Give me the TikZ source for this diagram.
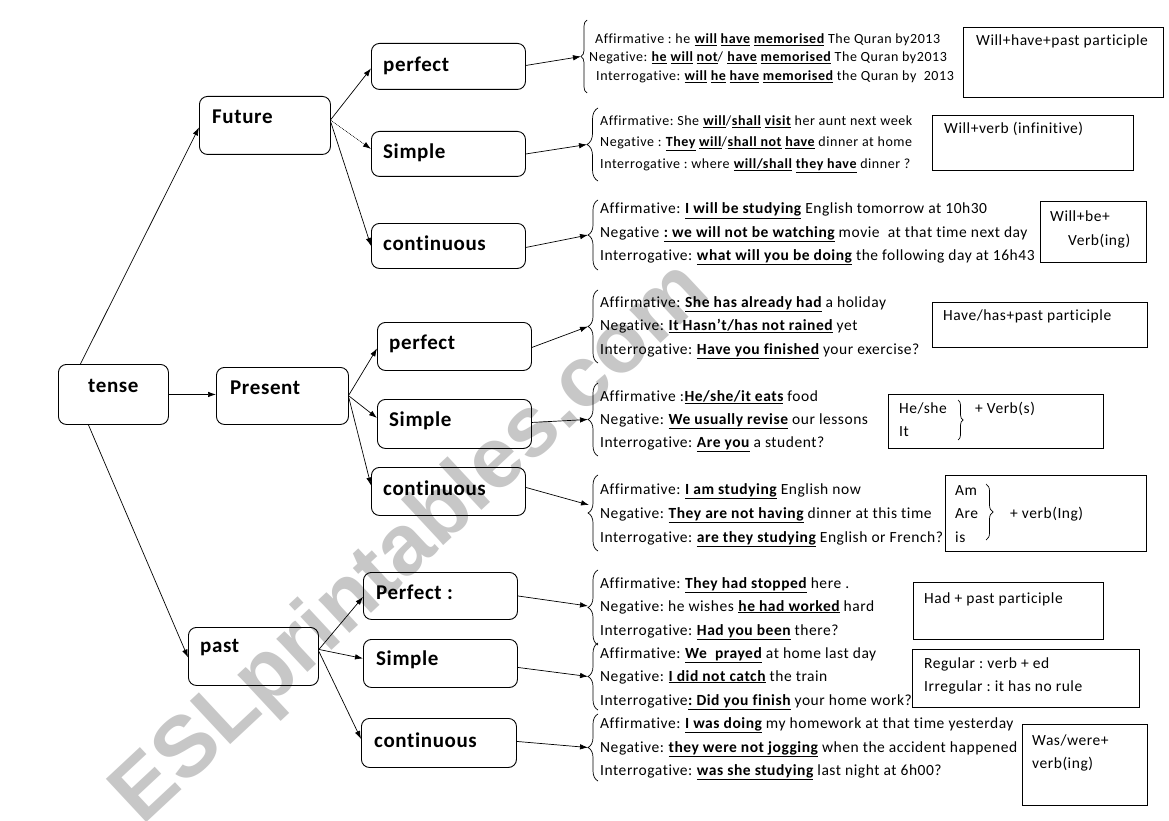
\documentclass[tikz,border=0pt]{standalone}
\usepackage{fontspec}
\setmainfont[Ligatures=NoCommon]{Carlito}
\newfontfamily\wmfont{Liberation Sans}
\newfontfamily\bodyfont[LetterSpace=3.5,Ligatures=NoCommon]{Carlito}
\newfontfamily\smfont[LetterSpace=4,Ligatures=NoCommon]{Carlito}
\newfontfamily\lblfont[LetterSpace=3,Ligatures=NoCommon]{Carlito}
\usetikzlibrary{arrows.meta,decorations.pathreplacing,calc}
\newcommand\bu[1]{\textbf{\underline{#1}}}
\frenchspacing
\begin{document}
\begin{tikzpicture}[x=1pt,y=-1pt,
  box/.style={draw, rounded corners=8pt, line width=0.9pt, anchor=north west, inner sep=0pt},
  formbox/.style={draw, fill=white, line width=0.9pt, anchor=north west, inner sep=0pt},
  lbl/.style={anchor=west, inner sep=0pt, font=\lblfont\fontsize{21}{24}\selectfont\bfseries},
  arr/.style={-{Latex[length=8pt,width=5.5pt]}, line width=0.7pt},
  br/.style={decorate, decoration={brace, amplitude=#1}, line width=0.7pt},
  br/.default=10pt,
  ln/.style={anchor=base west, inner sep=0pt, font=\bodyfont\fontsize{15.5}{18}\selectfont},
  sm/.style={anchor=base west, inner sep=0pt, font=\smfont\fontsize{14}{16}\selectfont},
  ft/.style={anchor=base west, inner sep=0pt, font=\bodyfont\fontsize{15.5}{18}\selectfont}]
\fill[white] (0,0) rectangle (1169,821);
\useasboundingbox (0,0) rectangle (1169,821);
% watermark
\node[rotate=43, text=black!22, inner sep=0pt, font=\wmfont\bfseries\fontsize{86}{86}\selectfont] (wm) at (412,545) {ESLprintables.com};
% main boxes
\node[box, minimum width=110pt, minimum height=60pt] (tense) at (58,364) {};
\node[lbl] (tenset) at (88,386) {tense};
\node[box, minimum width=132pt, minimum height=57pt] (pres) at (216,367) {};
\node[lbl] (prest) at (230,388) {Present};
\node[box, minimum width=131pt, minimum height=58pt] (fut) at (199,96) {};
\node[lbl] (futt) at (212,117) {Future};
\node[box, minimum width=130pt, minimum height=58pt] (past) at (188,627) {};
\node[lbl] (pastt) at (200,648) {past};
% second level
\node[box, minimum width=154pt, minimum height=46pt] (fp) at (371,43) {};
\node[lbl] (fpt) at (383,66) {perfect};
\node[box, minimum width=154pt, minimum height=45pt] (fs) at (371,131) {};
\node[lbl] (fst) at (383,153) {Simple};
\node[box, minimum width=154pt, minimum height=45pt] (fc) at (371,223) {};
\node[lbl] (fct) at (383,243) {continuous};
\node[box, minimum width=154pt, minimum height=48pt] (pp) at (377,322) {};
\node[lbl] (ppt) at (389,344) {perfect};
\node[box, minimum width=154pt, minimum height=49pt] (ps) at (377,399) {};
\node[lbl] (pst) at (389,421) {Simple};
\node[box, minimum width=154pt, minimum height=48pt] (pc) at (371,467) {};
\node[lbl] (pct) at (383,488) {continuous};
\node[box, minimum width=154pt, minimum height=47pt] (qp) at (363,572) {};
\node[lbl] (qpt) at (376,592) {Perfect :};
\node[box, minimum width=154pt, minimum height=48pt] (qs) at (363,639) {};
\node[lbl] (qst) at (376,660) {Simple};
\node[box, minimum width=155pt, minimum height=49pt] (qc) at (361,718) {};
\node[lbl] (qct) at (374,740) {continuous};
% first level connectors
\draw[arr] ($(tense.north)+(-33,0)$) -- ($(fut.west)+(0,2)$);
\draw[arr] (tense.east) -- (tense.east -| pres.west);
\draw[arr] ($(tense.south)+(-25,0)$) -- ($(past.west)+(0,1)$);
\draw[arr] ($(fut.east)+(0,-6)$) -- ($(fp.west)+(0,2)$);
\draw[arr, densely dotted] ($(fut.east)+(0,-5)$) -- ($(fs.west)+(0,-5)$);
\draw[arr] ($(fut.east)+(0,-3)$) -- (fc.west);
\draw[arr] ($(pres.east)+(0,-1)$) -- ($(pp.west)+(0,2)$);
\draw[arr] (pres.east) -- ($(ps.west)+(0,-6)$);
\draw[arr] ($(pres.east)+(0,2)$) -- ($(pc.west)+(0,-6)$);
\draw[arr] ($(past.east)+(0,-7)$) -- ($(qp.west)+(0,1)$);
\draw[arr] ($(past.east)+(0,-7)$) -- ($(qs.west)+(0,-5)$);
\draw[arr] ($(past.east)+(0,-5)$) -- ($(qc.west)+(0,-4)$);
% braces
\coordinate (t1) at (581,56.5);
\coordinate (t2) at (587,144.5);
\coordinate (t3) at (588,235);
\coordinate (t4) at (588,326.5);
\coordinate (t5) at (588,419.5);
\coordinate (t6) at (589,505);
\coordinate (t7) at (588,606);
\coordinate (t8) at (588,676.5);
\coordinate (t9) at (588,747.5);
\draw[br=6pt] (587,93) -- (587,20);
\draw[br=11pt] (598,181) -- (598,108);
\draw[br] (598,270) -- (598,200);
\draw[br] (598,363) -- (598,290);
\draw[br] (598,456) -- (598,383);
\draw[br] (598,551) -- (598,475);
\draw[br] (598,645) -- (598,570);
\draw[br] (598,710) -- (598,643);
\draw[br] (598,781) -- (598,714);
\draw[arr] ($(fp.east)+(0,-1)$) -- (t1);
\draw[arr] (fs.east) -- (t2);
\draw[arr] ($(fc.east)+(0,1.5)$) -- (t3);
\draw[arr] ($(pp.east)+(0,1)$) -- (t4);
\draw[arr] ($(ps.east)+(0,-1.5)$) -- (t5);
\draw[arr] ($(pc.east)+(0,-4)$) -- (t6);
\draw[arr] (qp.east) -- (t7);
\draw[arr] ($(qs.east)+(0,4)$) -- (t8);
\draw[arr] ($(qc.east)+(0,-1.5)$) -- (t9);
% block 1
\node[sm] (b1a) at (595,43.5) {Affirmative : he \bu{will} \bu{have} \bu{memorised} The Quran by2013};
\node[sm] (b1n) at (589,61.5) {Negative: \bu{he} \bu{will} \bu{not}/ \bu{have} \bu{memorised} The Quran by2013};
\node[sm] (b1i) at (596,80.5) {Interrogative: \bu{will} \bu{he} \bu{have} \bu{memorised} the Quran by\ \ 2013};
% block 2
\node[sm] (b2a) at (600,125.5) {Affirmative: She \bu{will}/\bu{shall} \bu{visit} her aunt next week};
\node[sm] (b2n) at (600,146.5) {Negative : \bu{They} \bu{will}/\bu{shall not} \bu{have} dinner at home};
\node[sm] (b2i) at (600,168.5) {Interrogative : where \bu{will/shall} \bu{they have} dinner ?};
% block 3
\node[ln] (b3a) at (600,214) {Affirmative: \bu{I will be studying} English tomorrow at 10h30};
\node[ln] (b3n) at (600,237) {Negative \bu{: we will not be watching} movie\ \ at that time next day};
\node[ln] (b3i) at (600,260) {Interrogative: \bu{what will you be doing} the following day at 16h43};
% block 4
\node[ln] (b4a) at (600,307) {Affirmative: \bu{She has already had} a holiday};
\node[ln] (b4n) at (600,330) {Negative: \bu{It Hasn’t/has not rained} yet};
\node[ln] (b4i) at (600,354) {Interrogative: \bu{Have you finished} your exercise?};
% block 5
\node[ln] (b5a) at (600,401) {Affirmative :\bu{He/she/it eats} food};
\node[ln] (b5n) at (600,424) {Negative: \bu{We usually revise} our lessons};
\node[ln] (b5i) at (600,447) {Interrogative: \bu{Are you} a student?};
% block 6
\node[ln] (b6a) at (600,494) {Affirmative: \bu{I am studying} English now};
\node[ln] (b6n) at (600,518) {Negative: \bu{They are not having} dinner at this time};
\node[ln] (b6i) at (600,542) {Interrogative: \bu{are they studying} English or French?};
% block 7
\node[ln] (b7a) at (600,588) {Affirmative: \bu{They had stopped} here .};
\node[ln] (b7n) at (600,611) {Negative: he wishes \bu{he had worked} hard};
\node[ln] (b7i) at (600,635) {Interrogative: \bu{Had you been} there?};
% block 8
\node[ln] (b8a) at (600,658) {Affirmative: \bu{We\ \ prayed} at home last day};
\node[ln] (b8n) at (600,681) {Negative: \bu{I did not catch} the train};
\node[ln] (b8i) at (600,705) {Interrogative\bu{: Did you finish} your home work?};
% block 9
\node[ln] (b9a) at (600,728) {Affirmative: \bu{I was doing} my homework at that time yesterday};
\node[ln] (b9n) at (600,752) {Negative: \bu{they were not jogging} when the accident happened};
\node[ln] (b9i) at (600,775) {Interrogative: \bu{was she studying} last night at 6h00?};
% formula boxes
\node[formbox, minimum width=200pt, minimum height=70pt] (f1) at (963,27) {};
\node[ft] (f1t) at (976,46) {Will+have+past participle};
\node[formbox, minimum width=201pt, minimum height=55pt] (f2) at (932,115) {};
\node[ft] (f2t) at (944,134) {Will+verb (infinitive)};
\node[formbox, minimum width=106pt, minimum height=61pt] (f3) at (1040,201) {};
\node[ft] (f3a) at (1050,221) {Will+be+};
\node[ft] (f3b) at (1068,245) {Verb(ing)};
\node[formbox, minimum width=215pt, minimum height=45pt] (f4) at (932,302) {};
\node[ft] (f4t) at (943,320) {Have/has+past participle};
\node[formbox, minimum width=215pt, minimum height=54pt] (f5) at (888,394) {};
\node[ft] (f5a) at (899,413) {He/she};
\node[ft] (f5b) at (899,436) {It};
\draw[br=5pt] (958,400) -- (958,440);
\node[ft] (f5c) at (975,413) {+\ Verb(s)};
\node[formbox, minimum width=201pt, minimum height=76pt] (f6) at (945,475) {};
\node[ft] (f6a) at (955,495) {Am};
\node[ft] (f6b) at (955,518) {Are};
\node[ft] (f6c) at (955,542) {is};
\draw[br=7pt] (986,484) -- (986,540);
\node[ft] (f6d) at (1010,518) {+ verb(Ing)};
\node[formbox, minimum width=190pt, minimum height=57pt] (f7) at (913,582) {};
\node[ft] (f7t) at (924,603) {Had + past participle};
\node[formbox, minimum width=227pt, minimum height=58pt] (f8) at (912,649) {};
\node[ft] (f8a) at (924,668) {Regular : verb + ed};
\node[ft] (f8b) at (924,691) {Irregular : it has no rule};
\node[formbox, minimum width=125pt, minimum height=81pt] (f9) at (1022,724) {};
\node[ft] (f9a) at (1032,745) {Was/were+};
\node[ft] (f9b) at (1032,768) {verb(ing)};
\end{tikzpicture}
\end{document}
